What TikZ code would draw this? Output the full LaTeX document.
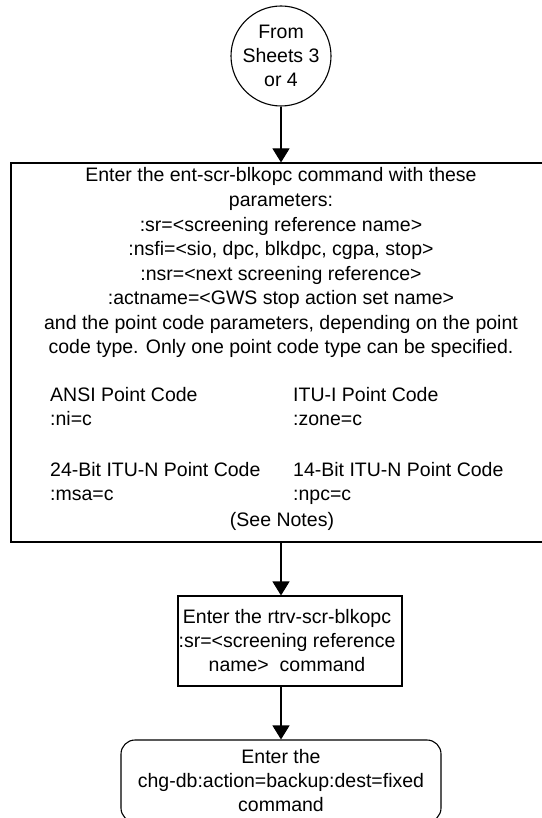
\documentclass[tikz,border=0pt]{standalone}
\usepackage{fontspec}
\setmainfont{Liberation Sans}
\usetikzlibrary{arrows.meta}
\begin{document}
\begin{tikzpicture}[x=1pt,y=-1pt,
  every node/.style={font=\fontsize{19.5}{24}\selectfont, text=black},
  flow/.style={draw=black, line width=1.1pt, -{Triangle[length=14pt,width=17pt]}},
  boxst/.style={draw=black, line width=1.1pt, inner sep=0pt},
  ln/.style={inner sep=0pt, anchor=base},
  lnw/.style={inner sep=0pt, anchor=base west}]
\useasboundingbox (0,0) rectangle (541,818);
\node[boxst, circle, minimum size=100pt, align=center] (start) at (281,56) {From\\Sheets 3\\or 4};
\node[boxst, minimum width=540pt, minimum height=379pt] (main) at (281,352.5) {};
\node[ln] (t1) at (281,182) {Enter the ent-scr-blkopc command with these};
\node[ln] (t2) at (281,206.5) {parameters:};
\node[ln] (t3) at (281,231) {:sr=<screening reference name>};
\node[ln] (t4) at (281,255.5) {:nsfi=<sio, dpc, blkdpc, cgpa, stop>};
\node[ln] (t5) at (281,280) {:nsr=<next screening reference>};
\node[ln] (t6) at (281,304.5) {:actname=<GWS stop action set name>};
\node[ln] (t7) at (281,329) {and the point code parameters, depending on the point};
\node[ln] (t8) at (281,353.5) {code type. Only one point code type can be specified.};
\node[lnw] (a1) at (50,401) {ANSI Point Code};
\node[lnw] (a2) at (50,425.5) {:ni=c};
\node[lnw] (b1) at (293,401) {ITU-I Point Code};
\node[lnw] (b2) at (293,425.5) {:zone=c};
\node[lnw] (c1) at (50,476) {24-Bit ITU-N Point Code};
\node[lnw] (c2) at (50,500.5) {:msa=c};
\node[lnw] (d1) at (293,476) {14-Bit ITU-N Point Code};
\node[lnw] (d2) at (293,500.5) {:npc=c};
\node[ln] (notes) at (282,526) {(See Notes)};
\node[boxst, minimum width=224pt, minimum height=90pt] (rtrv) at (290,641) {};
\node[inner sep=0pt, align=center] (rtrvtxt) at (287,641) {Enter the rtrv-scr-blkopc\\:sr=<screening reference\\name>~ command};
\node[boxst, rounded corners=14pt, minimum width=320pt, minimum height=82pt, align=center] (chg) at (281,781) {Enter the\\chg-db:action=backup:dest=fixed\\command};
\draw[flow] (start.south) -- (main.north);
\draw[flow] (main.south) -- (main.south |- rtrv.north);
\draw[flow] (rtrv.south -| chg.north) -- (chg.north);
\end{tikzpicture}
\end{document}
